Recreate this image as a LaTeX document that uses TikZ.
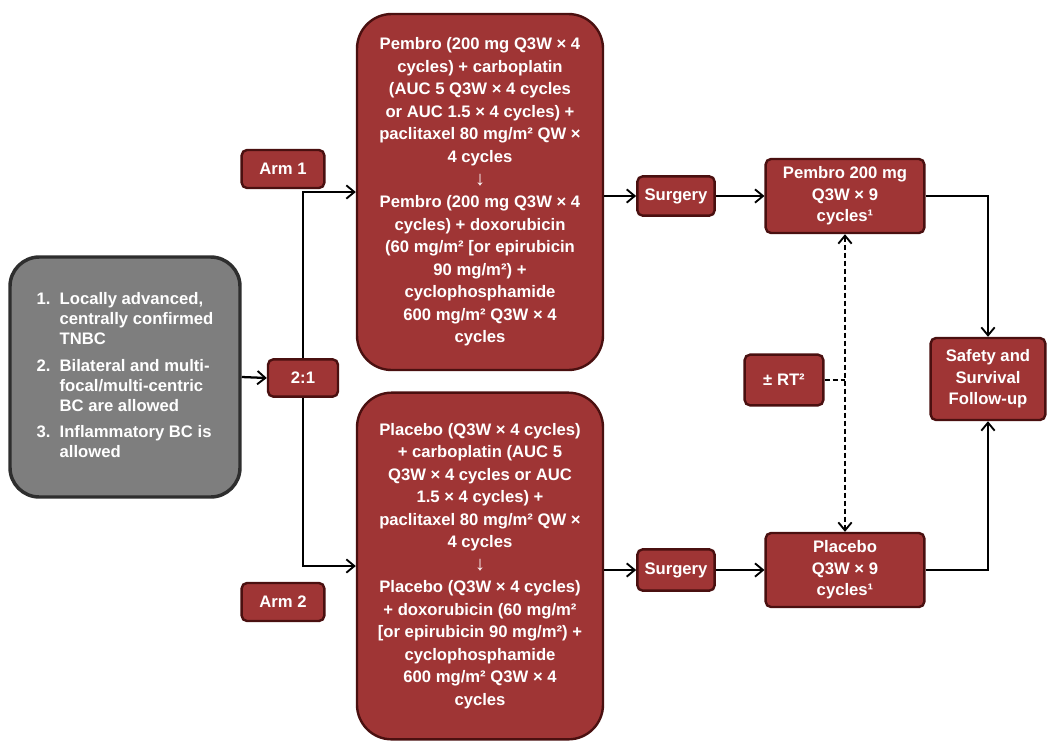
\documentclass[tikz,border=0pt]{standalone}
\usepackage{fontspec}
\setmainfont{Liberation Sans}
\usetikzlibrary{arrows.meta}
\definecolor{boxred}{HTML}{9F3535}
\definecolor{boxedge}{HTML}{4A1010}
\definecolor{boxgrey}{HTML}{7E7E7E}
\definecolor{greyedge}{HTML}{2E2E2E}
\tikzset{
  redbox/.style={draw=boxedge, line width=1.8pt, fill=boxred, text=white, rounded corners=4pt,
    align=center, inner sep=2pt, font=\fontsize{12.5}{16.2}\selectfont\bfseries},
  bigbox/.style={redbox, rounded corners=26pt, minimum width=184.5pt, font=\fontsize{12.5}{16.9}\selectfont\bfseries},
  greybox/.style={draw=greyedge, line width=2.6pt, fill=boxgrey, text=white, rounded corners=22pt,
    minimum width=172.5pt, minimum height=180pt, font=\fontsize{12.5}{15}\selectfont\bfseries},
  conn/.style={line width=1.7pt, draw=black},
  tip/.tip={Straight Barb[length=6pt,width=10pt,line width=1.4pt]},
  arr/.style={conn, -tip},
  dconn/.style={conn, dash pattern=on 4pt off 2pt},
}
\begin{document}
\begin{tikzpicture}[x=0.75pt,y=-0.75pt]
\useasboundingbox (0,0) rectangle (1047,744);
% nodes
\node[greybox] (incl) at (125,377) {\begin{tabular}{@{}r@{\hspace{0.55em}}l@{}}
1. & Locally advanced,\\ & centrally confirmed\\ & TNBC\\[5pt]
2. & Bilateral and multi-\\ & focal/multi-centric\\ & BC are allowed\\[5pt]
3. & Inflammatory BC is\\ & allowed\end{tabular}};
\node[redbox, minimum width=52.5pt, minimum height=28pt] (ratio) at (303,378) {2:1};
\node[redbox, minimum width=62pt, minimum height=28.5pt] (arm1) at (283,169) {Arm 1};
\node[redbox, minimum width=62pt, minimum height=28.5pt] (arm2) at (283,602) {Arm 2};
\node[bigbox, minimum height=267pt] (tx1) at (480,192) {Pembro (200 mg Q3W × 4\\cycles) + carboplatin\\(AUC 5 Q3W × 4 cycles\\or AUC 1.5 × 4 cycles) +\\paclitaxel 80 mg/m² QW ×\\4 cycles\\{\fontsize{15}{16.9}\selectfont ↓}\\Pembro (200 mg Q3W × 4\\cycles) + doxorubicin\\(60 mg/m² {[}or epirubicin\\90 mg/m²) +\\cyclophosphamide\\600 mg/m² Q3W × 4\\cycles};
\node[bigbox, minimum height=260pt] (tx2) at (480,566) {Placebo (Q3W × 4 cycles)\\+ carboplatin (AUC 5\\Q3W × 4 cycles or AUC\\1.5 × 4 cycles) +\\paclitaxel 80 mg/m² QW ×\\4 cycles\\{\fontsize{15}{16.9}\selectfont ↓}\\Placebo (Q3W × 4 cycles)\\+ doxorubicin (60 mg/m²\\{[}or epirubicin 90 mg/m²) +\\cyclophosphamide\\600 mg/m² Q3W × 4\\cycles};
\node[redbox, minimum width=58pt, minimum height=29.5pt] (surg1) at (676,196) {Surgery};
\node[redbox, minimum width=58pt, minimum height=31pt] (surg2) at (676,570) {Surgery};
\node[redbox, minimum width=119pt, minimum height=55.5pt] (maint1) at (845,196) {Pembro 200 mg\\Q3W × 9\\cycles¹};
\node[redbox, minimum width=119pt, minimum height=55.5pt] (maint2) at (845,570) {Placebo\\Q3W × 9\\cycles¹};
\node[redbox, minimum width=59pt, minimum height=38pt] (rt) at (784,380) {± RT²};
\node[redbox, minimum width=86pt, minimum height=61.5pt] (fu) at (988,379) {Safety and\\Survival\\Follow-up};
% connectors
\draw[arr] (incl.east) -- (ratio.west);
\draw[arr] (ratio.north) |- (tx1.west);
\draw[arr] (ratio.south) |- (tx2.west);
\draw[arr] (tx1.east |- surg1.west) -- (surg1.west);
\draw[arr] (tx2.east |- surg2.west) -- (surg2.west);
\draw[arr] (surg1.east) -- (maint1.west);
\draw[arr] (surg2.east) -- (maint2.west);
\draw[arr] (maint1.east) -| (fu.north);
\draw[arr] (maint2.east) -| (fu.south);
\draw[dconn, tip-tip] (maint1.south) -- (maint2.north);
\coordinate (rtj) at (rt.east -| maint1.south);
\draw[dconn] (rt.east) -- (rtj);
\end{tikzpicture}
\end{document}
